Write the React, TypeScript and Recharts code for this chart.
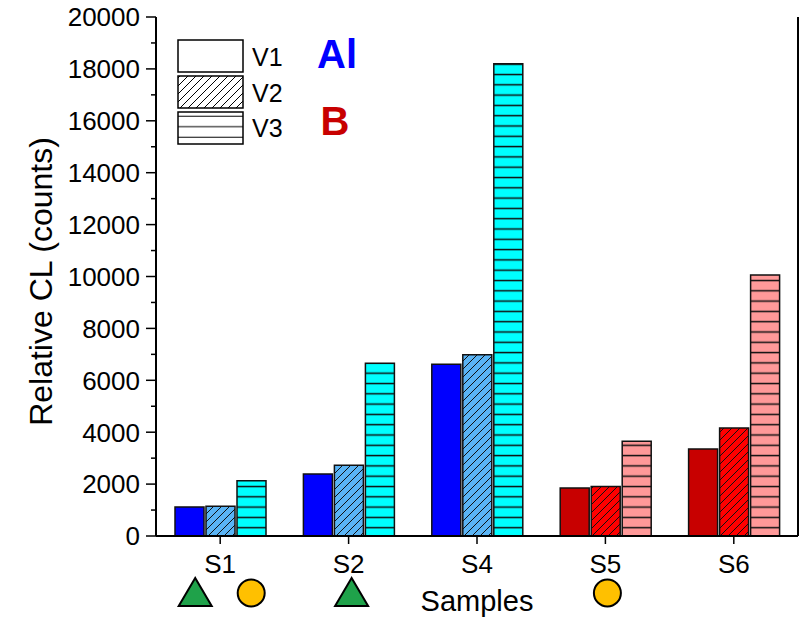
import { BarChart, Bar, XAxis, YAxis, Cell, Legend } from "recharts";

const SAMPLES = ["S1", "S2", "S4", "S5", "S6"];
const ELEMENT = ["Al", "Al", "Al", "B", "B"];
const V1 = [1120, 2390, 6620, 1850, 3350];
const V2 = [1150, 2730, 6980, 1910, 4160];
const V3 = [2130, 6660, 18200, 3650, 10060];

const Y_MAJOR = [0, 2000, 4000, 6000, 8000, 10000, 12000, 14000, 16000, 18000, 20000];
const Y_MINOR = [1000, 3000, 5000, 7000, 9000, 11000, 13000, 15000, 17000, 19000];
// frame axes run 0..5 across the five category bands
const X_BOUNDS = [1, 2, 3, 4];
const X_CENTERS = [0.5, 1.5, 2.5, 3.5, 4.5];

const TRIANGLE = ["S1", "S2"];
const CIRCLE = ["S1", "S5"];

const FONT = "'Liberation Sans', Arial, sans-serif";

const SERIES = [
  { key: "V1", fill: { Al: "#0000FF", B: "#C80000" }, legend: "#fff" },
  { key: "V2", fill: { Al: "url(#hatchAl)", B: "url(#hatchB)" }, legend: "url(#lgHatch)" },
  { key: "V3", fill: { Al: "url(#hlineAl)", B: "url(#hlineB)" }, legend: "url(#lgHline)" },
];

const GROUPS = [
  { name: "Al", color: "#0000FF" },
  { name: "B", color: "#C80000" },
];

const data = SAMPLES.map((name, i) => ({ name, element: ELEMENT[i], V1: V1[i], V2: V2[i], V3: V3[i] }));
const Y_ALL = [...Y_MAJOR, ...Y_MINOR].sort((a, b) => a - b);
const TOP_ALL = [...X_CENTERS, ...X_BOUNDS].sort((a, b) => a - b);

const LeftTick = ({ x, y, payload }: any) => {
  const major = Y_MAJOR.includes(payload.value);
  return (
    <g>
      <line x1={x - (major ? 10 : 5)} x2={x} y1={y} y2={y} stroke="#000" strokeWidth={1.5} />
      {major && (
        <text x={x - 16} y={y} dy="0.36em" textAnchor="end" fontSize={26} fontFamily={FONT} fill="#000">
          {payload.value}
        </text>
      )}
    </g>
  );
};

const RightTick = ({ x, y, payload }: any) => {
  const major = Y_MAJOR.includes(payload.value);
  return <line x1={x - (major ? 9 : 4)} x2={x} y1={y} y2={y} stroke="#000" strokeWidth={1.5} />;
};

const TopTick = ({ x, y, payload }: any) => {
  const major = X_CENTERS.includes(payload.value);
  return <line x1={x} x2={x} y1={y} y2={y + (major ? 8 : 4)} stroke="#000" strokeWidth={1.5} />;
};

const MinorTick = ({ x, y }: any) => <line x1={x} x2={x} y1={y} y2={y + 4} stroke="#000" strokeWidth={1.5} />;

const Triangle = ({ cx }: { cx: number }) => (
  <polygon points={`${cx},578 ${cx - 16.5},606 ${cx + 16.5},606`} fill="#1FA24A" stroke="#000" strokeWidth={2} />
);
const Circle = ({ cx }: { cx: number }) => <circle cx={cx} cy={593} r={13.5} fill="#FFC000" stroke="#000" strokeWidth={2} />;

const CatTick = ({ x, y, payload }: any) => {
  const tri = TRIANGLE.includes(payload.value);
  const cir = CIRCLE.includes(payload.value);
  const both = tri && cir;
  return (
    <g>
      <line x1={x} x2={x} y1={y} y2={y + 8} stroke="#000" strokeWidth={1.5} />
      <text x={x} y={y + 37} textAnchor="middle" fontSize={26} fontFamily={FONT} fill="#000">
        {payload.value}
      </text>
      {tri && <Triangle cx={both ? x - 25 : x + 3} />}
      {cir && <Circle cx={both ? x + 31 : x + 2} />}
    </g>
  );
};

const YLabel = ({ viewBox }: any) => {
  const vb = viewBox ?? { x: 0, y: 17, width: 156, height: 519 };
  const cx = vb.x + 52;
  const cy = vb.y + vb.height / 2 + 5;
  return (
    <text x={cx} y={cy} transform={`rotate(-90 ${cx} ${cy})`} textAnchor="middle" fontSize={32} fontFamily={FONT} fill="#000">
      Relative CL (counts)
    </text>
  );
};

const LegendBox = ({ payload }: any) => (
  <svg width={220} height={120} style={{ display: "block", overflow: "visible" }}>
    <defs>
      <pattern id="lgHatch" patternUnits="userSpaceOnUse" width="8" height="8">
        <rect width="8" height="8" fill="#fff" />
        <path d="M0,8 L8,0 M-2,2 L2,-2 M6,10 L10,6" stroke="#000" strokeWidth="1" />
      </pattern>
      <pattern id="lgHline" patternUnits="userSpaceOnUse" width="10" height="10.5">
        <rect width="10" height="10.5" fill="#fff" />
        <line x1="0" x2="10" y1="2.2" y2="2.2" stroke="#000" strokeWidth="1" />
      </pattern>
    </defs>
    {(payload ?? []).map((p: any, i: number) => {
      const s = SERIES.find((d) => d.key === p.dataKey || d.key === p.value) ?? SERIES[i];
      return (
        <g key={p.value}>
          <rect x={8} y={10 + i * 36} width={65} height={32} fill={s.legend} stroke="#000" strokeWidth={1.5} />
          <text x={82} y={36 + i * 35.5} fontSize={25} fontFamily={FONT} fill="#000">
            {p.value}
          </text>
        </g>
      );
    })}
    {GROUPS.map((g, i) => (
      <text key={g.name} x={167 - i * 2} y={38 + i * 67} textAnchor="middle" fontSize={40} fontWeight="bold" fontFamily={FONT} fill={g.color}>
        {g.name}
      </text>
    ))}
  </svg>
);

export default function App() {
  return (
    <div style={{ position: "absolute", left: 0, top: 0, width: 799, height: 617, background: "#fff", fontFamily: FONT }}>
      <BarChart width={799} height={617} data={data} margin={{ top: 17, right: 0, bottom: 0, left: 0 }} barSize={29} barGap={2}>
        <defs>
          <pattern id="hatchAl" patternUnits="userSpaceOnUse" width="8" height="8">
            <rect width="8" height="8" fill="#5AB4F5" />
            <path d="M0,8 L8,0 M-2,2 L2,-2 M6,10 L10,6" stroke="#111" strokeWidth="1" />
          </pattern>
          <pattern id="hatchB" patternUnits="userSpaceOnUse" width="8" height="8">
            <rect width="8" height="8" fill="#FF0000" />
            <path d="M0,8 L8,0 M-2,2 L2,-2 M6,10 L10,6" stroke="#111" strokeWidth="1" />
          </pattern>
          <pattern id="hlineAl" patternUnits="userSpaceOnUse" width="10" height="10.3">
            <rect width="10" height="10.3" fill="#00FFFF" />
            <line x1="0" x2="10" y1="2.4" y2="2.4" stroke="#111" strokeWidth="1.5" />
          </pattern>
          <pattern id="hlineB" patternUnits="userSpaceOnUse" width="10" height="10.3">
            <rect width="10" height="10.3" fill="#FF9999" />
            <line x1="0" x2="10" y1="2.4" y2="2.4" stroke="#111" strokeWidth="1.5" />
          </pattern>
        </defs>
        <XAxis
          xAxisId="minor"
          type="number"
          domain={[0, 5]}
          ticks={X_BOUNDS}
          interval={0}
          height={0}
          axisLine={false}
          tickLine={false}
          tickSize={0}
          tickMargin={0}
          tick={(p: any) => <MinorTick {...p} />}
        />
        <XAxis
          xAxisId="cat"
          dataKey="name"
          height={81}
          interval={0}
          axisLine={{ stroke: "#000", strokeWidth: 2 }}
          tickLine={false}
          tickSize={0}
          tickMargin={0}
          tick={(p: any) => <CatTick {...p} />}
          label={{ value: "Samples", position: "insideBottom", offset: 6, fontSize: 29, fill: "#000", fontFamily: FONT }}
        />
        <XAxis
          xAxisId="top"
          orientation="top"
          type="number"
          domain={[0, 5]}
          ticks={TOP_ALL}
          interval={0}
          height={0}
          axisLine={{ stroke: "#000", strokeWidth: 2 }}
          tickLine={false}
          tickSize={0}
          tickMargin={0}
          tick={(p: any) => <TopTick {...p} />}
        />
        <YAxis
          yAxisId="left"
          width={156}
          domain={[0, 20000]}
          ticks={Y_ALL}
          interval={0}
          axisLine={{ stroke: "#000", strokeWidth: 2 }}
          tickLine={false}
          tickSize={0}
          tickMargin={0}
          tick={(p: any) => <LeftTick {...p} />}
          label={(p: any) => <YLabel {...p} />}
        />
        <YAxis
          yAxisId="right"
          orientation="right"
          width={1}
          domain={[0, 20000]}
          ticks={Y_ALL}
          interval={0}
          axisLine={{ stroke: "#000", strokeWidth: 2 }}
          tickLine={false}
          tickSize={0}
          tickMargin={0}
          tick={(p: any) => <RightTick {...p} />}
        />
        <Legend
          layout="vertical"
          align="center"
          verticalAlign="middle"
          wrapperStyle={{ left: 170, top: 30, width: 220, height: 120 }}
          content={(p: any) => <LegendBox {...p} />}
        />
        {SERIES.map((s) => (
          <Bar
            key={s.key}
            xAxisId="cat"
            yAxisId="left"
            dataKey={s.key}
            name={s.key}
            stroke="#111"
            strokeWidth={1.5}
            isAnimationActive={false}
          >
            {data.map((d) => (
              <Cell key={d.name} fill={s.fill[d.element as "Al" | "B"]} />
            ))}
          </Bar>
        ))}
      </BarChart>
    </div>
  );
}
